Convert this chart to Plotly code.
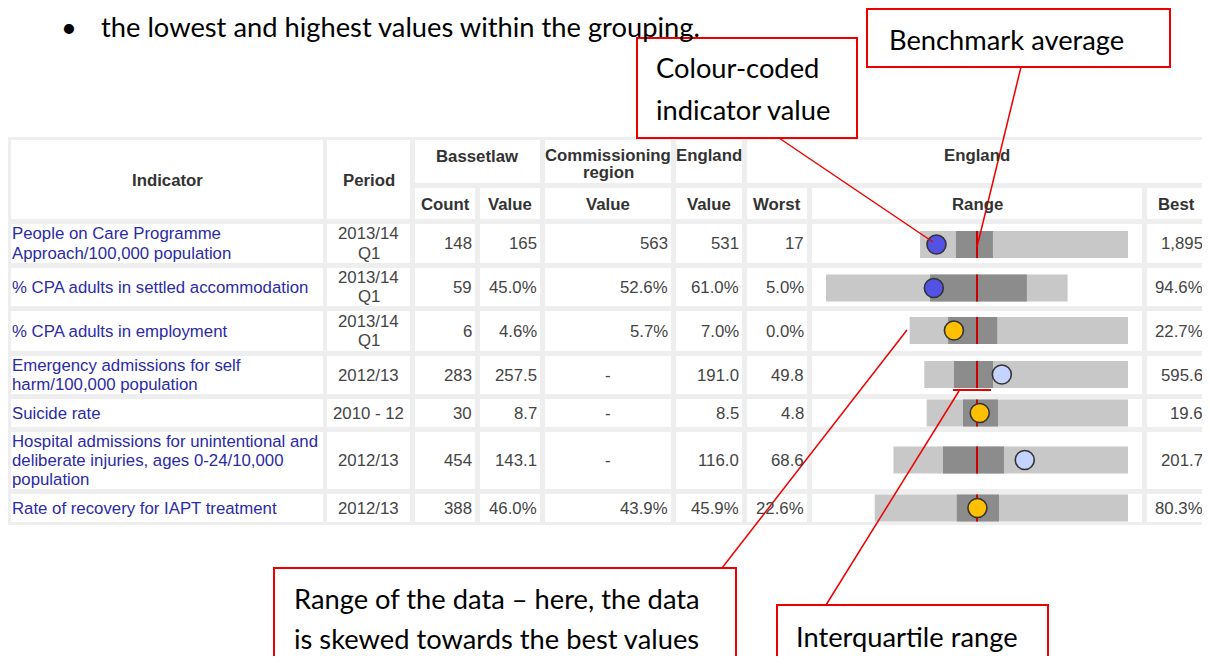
import plotly.graph_objects as go

# ---------------- data ----------------
indicators = [
    "People on Care Programme\nApproach/100,000 population",
    "% CPA adults in settled accommodation",
    "% CPA adults in employment",
    "Emergency admissions for self\nharm/100,000 population",
    "Suicide rate",
    "Hospital admissions for unintentional and\ndeliberate injuries, ages 0-24/10,000\npopulation",
    "Rate of recovery for IAPT treatment",
]
periods = ["2013/14\nQ1", "2013/14\nQ1", "2013/14\nQ1", "2012/13", "2010 - 12", "2012/13", "2012/13"]
counts = [148, 59, 6, 283, 30, 454, 388]
local_values = [165, 45.0, 4.6, 257.5, 8.7, 143.1, 46.0]
region_values = [563, 52.6, 5.7, None, None, None, 43.9]
england_values = [531, 61.0, 7.0, 191.0, 8.5, 116.0, 45.9]
worst_values = [17, 5.0, 0.0, 49.8, 4.8, 68.6, 22.6]
best_values = [1895, 94.6, 22.7, 595.6, 19.6, 201.7, 80.3]
q1_values = [341, 43.6, 4.0, 129.4, 7.47, 96.7, 41.3]
q3_values = [675, 79.5, 9.1, 233.9, 10.04, 131.3, 50.9]
value_formats = ["{:,.0f}", "{:.1f}%", "{:.1f}%", "{:.1f}", "{:.1f}", "{:.1f}", "{:.1f}%"]
significance_colours = ["#5252E4", "#5252E4", "#FFC000", "#C4D4FF", "#FFC000", "#C4D4FF", "#FFC000"]

# ---------------- layout geometry ----------------
W, H = 1210, 664
OFF = 8  # page body margin
col_edges = {
    "ind": (11, 323), "per": (327, 410), "cnt": (415, 475), "val": (480, 540),
    "reg": (545, 671), "eng": (676, 742), "wst": (747, 807), "rng": (812, 1142), "bst": (1147, 1206),
}
hdr1 = (140, 183)
hdr2 = (188, 219)
row_edges = [(224, 263), (268, 306), (311, 351), (356, 394), (399, 427), (432, 489), (494, 522)]
bar_centres = [244.5, 288, 330.5, 374.5, 413, 460, 508]
BAR_H = 27

TXT = "#444444"
HDR = "#333333"
LINK = "#2B2BA8"
TFONT = "Liberation Sans, Arial, sans-serif"
FS = 16.8
CFONT = "Lato, Carlito, sans-serif"
CFS = 27.3
RED = "#EE0000"

shapes = []
annotations = []

def rect(x0, x1, y0, y1, fill, layer="below", line=None):
    d = dict(type="rect", xref="x", yref="y", x0=x0, x1=x1, y0=y0, y1=y1,
             fillcolor=fill, layer=layer, line=dict(width=0))
    if line:
        d["line"] = line
    shapes.append(d)

def text(x, y, s, anchor="left", color=TXT, bold=False, size=FS, font=TFONT, yanchor="middle"):
    annotations.append(dict(x=x, y=y, xref="x", yref="y", text=("<b>%s</b>" % s) if bold else s,
                            showarrow=False, xanchor=anchor, yanchor=yanchor, borderpad=0,
                            font=dict(family=font, size=size, color=color)))

# table background
rect(8, 1212, 137, 525, "#EEEEEE")
# header cells
rect(*col_edges["ind"], hdr1[0], hdr2[1], "white")
rect(*col_edges["per"], hdr1[0], hdr2[1], "white")
rect(col_edges["cnt"][0], col_edges["val"][1], *hdr1, "white")
rect(*col_edges["reg"], *hdr1, "white")
rect(*col_edges["eng"], *hdr1, "white")
rect(col_edges["wst"][0], col_edges["bst"][1], *hdr1, "white")
for k in ["cnt", "val", "reg", "eng", "wst", "rng", "bst"]:
    rect(*col_edges[k], *hdr2, "white")
for (t, b) in row_edges:
    for k in col_edges:
        rect(*col_edges[k], t, b, "white")

def cx(k):
    return (col_edges[k][0] + col_edges[k][1]) / 2

# header texts
text(cx("ind"), 180, "Indicator", "center", HDR, True)
text(cx("per"), 180, "Period", "center", HDR, True)
text((col_edges["cnt"][0] + col_edges["val"][1]) / 2, 156, "Bassetlaw", "center", HDR, True)
text(cx("reg"), 155, "Commissioning", "center", HDR, True)
text(cx("reg"), 172, "region", "center", HDR, True)
text(cx("eng"), 155, "England", "center", HDR, True)
text((col_edges["wst"][0] + col_edges["bst"][1]) / 2, 155, "England", "center", HDR, True)
for k, lab in [("cnt", "Count"), ("val", "Value"), ("reg", "Value"), ("eng", "Value"),
               ("wst", "Worst"), ("rng", "Range"), ("bst", "Best")]:
    text(cx(k), 204, lab, "center", HDR, True)

LS = 19.3
for i, (t, b) in enumerate(row_edges):
    mid = (t + b) / 2
    lines = indicators[i].split("\n")
    y0 = mid - (len(lines) - 1) * LS / 2
    for j, ln in enumerate(lines):
        text(11, y0 + j * LS, ln, "left", LINK)
    plines = periods[i].split("\n")
    y0 = mid - (len(plines) - 1) * LS / 2
    for j, ln in enumerate(plines):
        text(cx("per"), y0 + j * LS, ln, "center", TXT)
    f = value_formats[i]
    text(col_edges["cnt"][1] - 2, mid, "{:d}".format(counts[i]), "right")
    text(col_edges["val"][1] - 2, mid, f.format(local_values[i]), "right")
    if region_values[i] is None:
        text(cx("reg"), mid, "-", "center")
    else:
        text(col_edges["reg"][1] - 2, mid, f.format(region_values[i]), "right")
    text(col_edges["eng"][1] - 2, mid, f.format(england_values[i]), "right")
    text(col_edges["wst"][1] - 2, mid, f.format(worst_values[i]), "right")
    text(col_edges["bst"][1] - 2, mid, f.format(best_values[i]), "right")

# ---------------- spine chart (normalised: England = 0, furthest extreme = +/-1) ----------------
def norm(v, i):
    e = england_values[i]
    s = max(e - worst_values[i], best_values[i] - e)
    return (v - e) / s

n = len(indicators)
nw = [norm(worst_values[i], i) for i in range(n)]
nb = [norm(best_values[i], i) for i in range(n)]
nq1 = [norm(q1_values[i], i) for i in range(n)]
nq3 = [norm(q3_values[i], i) for i in range(n)]
nl = [norm(local_values[i], i) for i in range(n)]

fig = go.Figure()
fig.add_trace(go.Bar(orientation="h", y=bar_centres, base=nw, x=[b - a for a, b in zip(nw, nb)],
                     width=BAR_H, marker=dict(color="#C8C8C8", line=dict(width=0)),
                     xaxis="x2", yaxis="y", hoverinfo="skip"))
fig.add_trace(go.Bar(orientation="h", y=bar_centres, base=nq1, x=[b - a for a, b in zip(nq1, nq3)],
                     width=BAR_H, marker=dict(color="#8C8C8C", line=dict(width=0)),
                     xaxis="x2", yaxis="y", hoverinfo="skip"))
lx, ly = [], []
for c in bar_centres:
    lx += [0, 0, None]
    ly += [c - BAR_H / 2, c + BAR_H / 2, None]
fig.add_trace(go.Scatter(x=lx, y=ly, mode="lines", line=dict(color="#CC0000", width=2),
                         xaxis="x2", yaxis="y", hoverinfo="skip"))
fig.add_trace(go.Scatter(x=nl, y=bar_centres, mode="markers",
                         marker=dict(size=19, color=significance_colours, line=dict(color="#333333", width=1.6)),
                         xaxis="x2", yaxis="y", hoverinfo="skip"))

# ---------------- callouts ----------------
def box(x0, x1, y0, y1):
    shapes.append(dict(type="rect", xref="x", yref="y", x0=x0, x1=x1, y0=y0, y1=y1,
                       fillcolor="rgba(0,0,0,0)", layer="above", line=dict(color=RED, width=2)))

def seg(x0, y0, x1, y1, w=1.5):
    shapes.append(dict(type="line", xref="x", yref="y", x0=x0, y0=y0, x1=x1, y1=y1,
                       layer="above", line=dict(color=RED, width=w)))

box(867, 1170, 9, 67)
text(888, 39, "Benchmark average", "left", "#000000", False, CFS, CFONT)
box(637, 857, 38, 138)
text(655, 67, "Colour-coded", "left", "#000000", False, CFS, CFONT)
text(655, 109, "indicator value", "left", "#000000", False, CFS, CFONT)
box(274, 736, 568, 680)
text(293, 598, "Range of the data \u2013 here, the data", "left", "#000000", False, CFS, CFONT)
text(293, 638, "is skewed towards the best values", "left", "#000000", False, CFS, CFONT)
box(777, 1048, 605, 680)
text(795, 636, "Interquartile range", "left", "#000000", False, CFS, CFONT)

seg(779, 138, 933, 242)
seg(1021, 67, 977, 247)
seg(722, 568, 907, 330)
seg(826, 605, 959, 391)
seg(953, 390, 991, 390, 2)

text(60, OFF + 0.5, "\u2022", "left", "#000000", False, CFS, CFONT, "top")
text(100, OFF + 0.5, "the lowest and highest values within the grouping.", "left", "#000000", False, CFS, CFONT, "top")

# the page body has an 8px margin on every side; keep the figure inside the viewport
FW, FH = W - OFF, H - 2 * OFF
fig.update_layout(
    width=FW, height=FH, margin=dict(l=0, r=0, t=0, b=0, pad=0),
    paper_bgcolor="white", plot_bgcolor="rgba(0,0,0,0)",
    showlegend=False, barmode="overlay",
    xaxis=dict(range=[OFF, W], visible=False, fixedrange=True),
    xaxis2=dict(domain=[(826 - OFF) / FW, (1128 - OFF) / FW], range=[-1, 1], anchor="y",
                visible=False, fixedrange=True),
    yaxis=dict(range=[OFF + FH, OFF], visible=False, fixedrange=True),
    shapes=shapes, annotations=annotations,
)
fig.write_html("out.html", config={"displayModeBar": False})
